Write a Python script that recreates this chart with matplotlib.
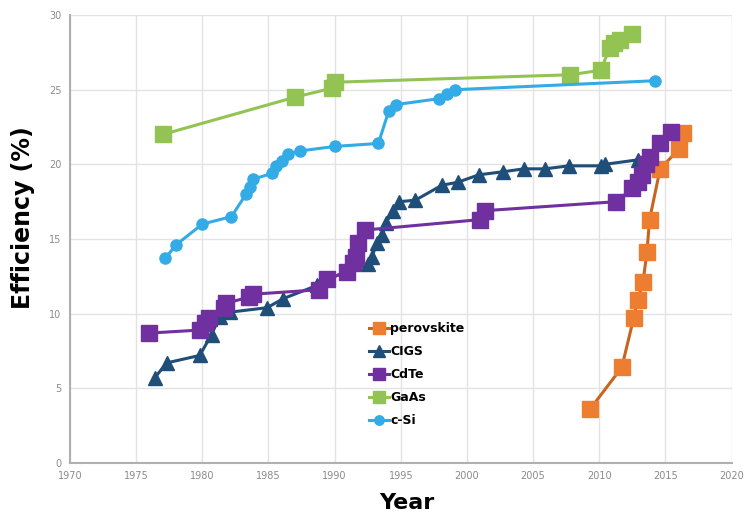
import numpy as np
from matplotlib import pyplot as plt

# values
perov_year = [2009.3, 2011.7, 2012.6, 2012.9, 2013.3, 2013.6, 2013.8, 2014.6, 2016.0, 2016.3]
perov_eff = [3.6, 6.4, 9.7, 10.9, 12.1, 14.1, 16.3, 19.7, 21.0, 22.1]

cigs_year = [1976.4, 1977.3, 1979.8, 1980.7, 1981.3, 1982.1, 1984.9, 1986.1, 1988.7, 1989.4,
             1992.5, 1992.8, 1993.2, 1993.6, 1993.9, 1994.4, 1994.9, 1996.1, 1998.1, 1999.3,
             2000.9, 2002.7, 2004.3, 2005.9, 2007.7, 2010.1, 2010.4, 2012.9, 2013.6]
cigs_eff = [5.7, 6.7, 7.2, 8.6, 9.8, 10.1, 10.4, 11.0, 11.9, 12.3,
            13.3, 13.8, 14.7, 15.3, 16.1, 16.9, 17.5, 17.6, 18.6, 18.8,
            19.3, 19.5, 19.7, 19.7, 19.9, 19.9, 20.0, 20.3, 20.5]

cdte_year = [1976.0, 1979.8, 1980.2, 1980.5, 1981.6, 1981.8, 1983.5, 1983.8, 1988.8, 1989.4,
             1990.9, 1991.4, 1991.6, 1991.8, 1992.3, 2001.0, 2001.4, 2011.3, 2012.5, 2012.9,
             2013.2, 2013.5, 2013.8, 2014.6, 2015.4]
cdte_eff = [8.7, 8.9, 9.4, 9.7, 10.4, 10.7, 11.1, 11.3, 11.6, 12.3,
            12.8, 13.4, 13.8, 14.7, 15.6, 16.3, 16.9, 17.5, 18.4, 18.8,
            19.3, 20.0, 20.5, 21.4, 22.2]

gaas_year = [1977.0, 1987.0, 1989.8, 1990.0, 2007.8, 2010.1, 2010.8, 2011.1, 2011.6, 2012.5]
gaas_eff = [22.0, 24.5, 25.1, 25.5, 26.0, 26.3, 27.8, 28.1, 28.3, 28.7]

csi_year = [1977.2, 1978.0, 1980.0, 1982.2, 1983.3, 1983.6, 1983.8, 1985.3, 1985.6, 1986.0,
            1986.5, 1987.4, 1990.0, 1993.3, 1994.1, 1994.6, 1997.9, 1998.5, 1999.1, 2014.2]
csi_eff = [13.7, 14.6, 16.0, 16.5, 18.0, 18.5, 19.0, 19.4, 19.9, 20.2,
           20.7, 20.9, 21.2, 21.4, 23.6, 24.0, 24.4, 24.7, 25.0, 25.6]

fig = plt.figure(figsize=(7.45, 5.19), dpi=100)
ax = fig.add_axes([0.094, 0.108, 0.888, 0.863])

ax.plot(perov_year, perov_eff, color="#C86420", marker="s", markersize=11,
        markerfacecolor="#ED7D31", markeredgecolor="#ED7D31", linewidth=2.2, label="perovskite")
ax.plot(cigs_year, cigs_eff, color="#1F4E79", marker="^", markersize=10,
        linewidth=2.2, label="CIGS")
ax.plot(cdte_year, cdte_eff, color="#7030A0", marker="s", markersize=11,
        linewidth=2.2, label="CdTe")
ax.plot(gaas_year, gaas_eff, color="#92C353", marker="s", markersize=11,
        linewidth=2.2, label="GaAs")
ax.plot(csi_year, csi_eff, color="#33ABE6", marker="o", markersize=8,
        linewidth=2.2, label="c-Si")

ax.set_xlim(1970, 2020)
ax.set_ylim(0, 30)
ax.set_xticks(np.arange(1970, 2021, 5))
ax.set_yticks(np.arange(0, 31, 5))
ax.grid(True, color="#e3e3e3", linewidth=1)
ax.set_axisbelow(True)
for s in ["top", "right"]:
    ax.spines[s].set_visible(False)
for s in ["left", "bottom"]:
    ax.spines[s].set_color("#b0b0b0")
    ax.spines[s].set_linewidth(1.5)
ax.tick_params(length=0, labelsize=7, labelcolor="#8a8a8a", pad=6)

ax.set_xlabel("Year", fontsize=16, fontweight="bold")
ax.set_ylabel("Efficiency (%)", fontsize=17, fontweight="bold")
ax.xaxis.set_label_coords(0.509, -0.068)
ax.yaxis.set_label_coords(-0.053, 0.547)

ax.legend(loc="upper left", bbox_to_anchor=(0.435, 0.34), frameon=False,
          prop={"weight": "bold", "size": 9}, handlelength=1.6, handletextpad=0.1,
          labelspacing=0.8, markerscale=0.85)

plt.savefig("out.png", dpi=100)
